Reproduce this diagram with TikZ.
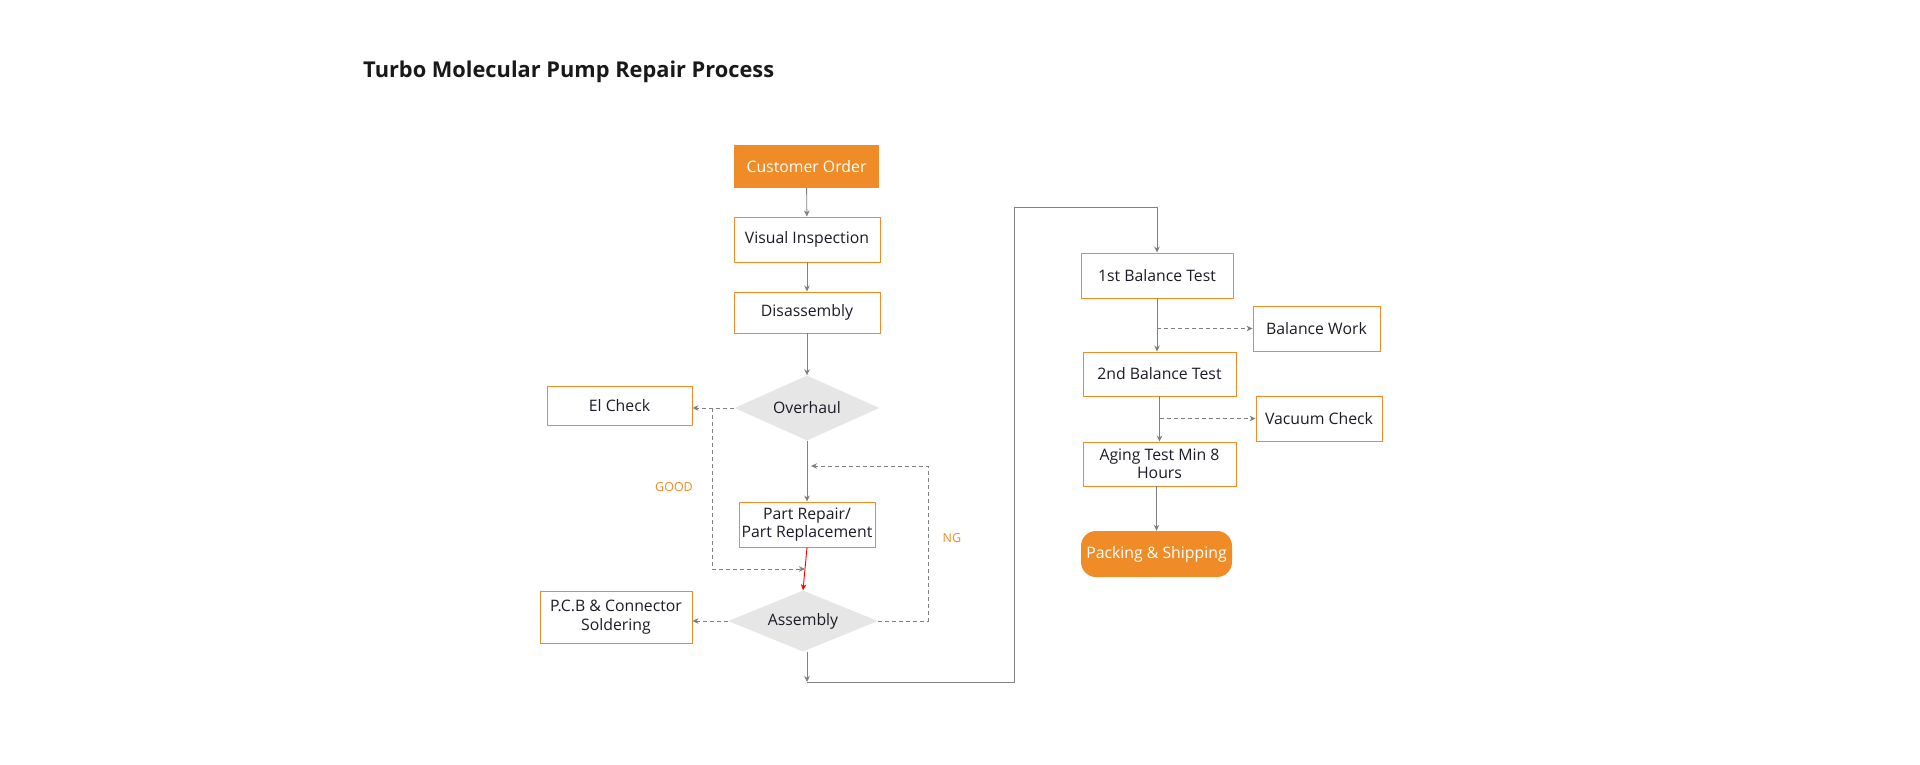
\documentclass[tikz,border=0pt]{standalone}
\usepackage{fontspec}
\setmainfont{Open Sans}
\usepackage{tikz}
\usetikzlibrary{arrows.meta,positioning,shapes.geometric}
\definecolor{tmpOrange}{RGB}{240,140,40}
\definecolor{tmpGray}{RGB}{128,128,128}
\definecolor{tmpLight}{RGB}{230,230,230}
\definecolor{tmpInk}{RGB}{28,28,40}

\begin{document}
\begin{tikzpicture}[
  x=1pt,y=-1pt,
  font=\fontsize{15.8}{18.5}\selectfont,
  box/.style={draw=tmpOrange,line width=0.9pt,fill=white,text=tmpInk,inner sep=2pt,align=center},
  startbox/.style={fill=tmpOrange,text=white,inner sep=2pt,align=center},
  dec/.style={diamond,aspect=2.2,fill=tmpLight,text=tmpInk,inner sep=0pt,minimum width=145pt,minimum height=65pt},
  flow/.style={-{Stealth[length=6pt,width=5.5pt,inset=1.8pt]},tmpGray,line width=0.9pt},
  side/.style={flow,dashed,dash pattern=on 4pt off 3pt},
  hot/.style={flow,draw=red},
  lbl/.style={inner sep=1pt,text=tmpOrange,font=\fontsize{12.5}{14}\selectfont},
]
\useasboundingbox (0,0) rectangle (1920,764);

% title
\node[anchor=base west,inner sep=0pt,font=\fontsize{21.8}{26}\selectfont\bfseries,text=black!90]
  (title) at (363,77) {Turbo Molecular Pump Repair Process};

% left column
\node[startbox,minimum width=145pt,minimum height=43pt] (order) at (806.5,166.5) {Customer Order};
\node[box,minimum width=146pt,minimum height=45pt] (visual) at (807,239.5) {Visual Inspection};
\node[box,minimum width=146pt,minimum height=41pt] (disasm) at (807,312.5) {Disassembly};
\node[dec] (overhaul) at (807,408) {Overhaul};
\node[box,minimum width=145pt,minimum height=39pt] (elcheck) at (619.5,406) {El Check};
\node[box,minimum width=136pt,minimum height=45pt] (repair) at (807,524.5) {Part Repair/\\Part Replacement};
\node[dec,minimum width=150pt,minimum height=61pt] (assembly) at (803,621) {Assembly};
\node[box,minimum width=152pt,minimum height=52pt] (solder) at (616,617) {P.C.B \& Connector\\Soldering};

\node[lbl] (good) at (674,487) {GOOD};
\node[lbl] (ng) at (952,538) {NG};

\draw[flow] (order) -- (visual);
\draw[flow] (visual) -- (disasm);
\draw[flow] (disasm) -- (overhaul);
\draw[side] (overhaul.west) -- (elcheck.east |- overhaul.west);
\draw[flow] (overhaul) -- (repair);
\draw[hot] (repair.south) -- (assembly.north);
\draw[side] (assembly.west) -- (solder.east |- assembly.west);

% GOOD bypass
\coordinate (goodtop) at (712,408);
\coordinate (goodend) at (805,569);
\draw[side] (goodtop) |- (goodend);

% NG loop back
\coordinate (ngturn) at (928,466);
\coordinate (ngend) at (811,466);
\draw[side] (assembly.east) -| (ngturn) -- (ngend);

% route over to the right column
\coordinate (lowturn) at (807,682);
\coordinate (upturn) at (1014,207);
\draw[flow] (assembly.south -| overhaul.south) -- (lowturn);

% right column
\node[box,minimum width=152pt,minimum height=45pt] (bal1) at (1157,275.5) {1st Balance Test};
\node[box,minimum width=127pt,minimum height=45pt] (balwork) at (1316.5,328.5) {Balance Work};
\node[box,minimum width=153pt,minimum height=44pt] (bal2) at (1159.5,374) {2nd Balance Test};
\node[box,minimum width=126pt,minimum height=45pt] (vacuum) at (1319,418.5) {Vacuum Check};
\node[box,minimum width=153pt,minimum height=44pt] (aging) at (1159.5,464) {Aging Test Min 8\\Hours};
\node[startbox,rounded corners=15pt,minimum width=151pt,minimum height=46pt] (pack) at (1156.5,554) {Packing \& Shipping};

\draw[flow] (lowturn) -| (upturn) -| (bal1.north);
\draw[flow] (bal1.south) -- (bal1.south |- bal2.north);
\draw[side] (bal1.south |- balwork.west) -- (balwork.west);
\draw[flow] (bal2.south) -- (bal2.south |- aging.north);
\draw[side] (bal2.south |- vacuum.west) -- (vacuum.west);
\draw[flow] (pack.north |- aging.south) -- (pack.north);
\end{tikzpicture}
\end{document}
